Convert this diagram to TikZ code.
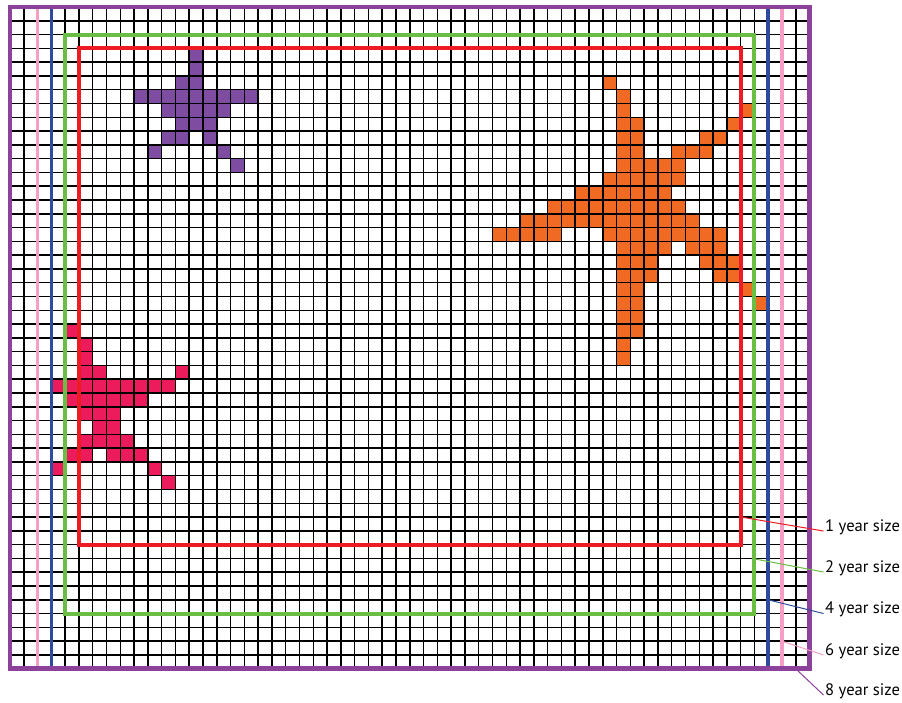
\documentclass[tikz,border=0pt]{standalone}
\usepackage{fontspec}
\setmainfont{PT Sans}
\definecolor{frameP}{RGB}{140,65,155}
\definecolor{starP}{RGB}{126,76,160}
\definecolor{starO}{RGB}{240,106,36}
\definecolor{starC}{RGB}{236,28,92}
\definecolor{lineR}{RGB}{237,28,36}
\definecolor{lineG}{RGB}{106,189,69}
\definecolor{lineB}{RGB}{46,74,158}
\definecolor{lineK}{RGB}{244,160,196}
\tikzset{
  gridline/.style={black,line width=1.5pt},
  sizeline/.style={line width=#1},
  leader/.style={line width=1pt},
  lbl/.style={inner sep=0pt,anchor=base west,font=\fontsize{16.6}{19}\selectfont}
}
\begin{document}
\begin{tikzpicture}[x=1pt,y=-1pt]
\fill[white] (0,0) rectangle (902,702);
\useasboundingbox (0,0) rectangle (902,702);
\begin{scope}[xshift=10pt,yshift=-7pt,x=13.785pt,y=-13.785pt]
  % purple star
  \foreach \r/\a/\b in {3/13/13,4/13/13,5/12/13,6/9/17,7/11/15,8/12/14,9/11/12,9/14/14,10/10/10,10/15/15,11/16/16}
    \fill[starP] (\a,\r) rectangle (\b+1,\r+1);
  % orange star
  \foreach \r/\a/\b in {5/43/43,6/44/44,7/44/44,7/53/53,8/44/45,8/52/52,9/44/45,9/50/51,10/44/45,10/48/50,11/44/48,12/43/48,13/41/47,14/39/48,15/37/49,16/35/39,16/43/51,17/44/47,17/49/51,18/44/46,18/50/52,19/44/46,19/51/52,20/44/45,20/53/53,21/44/45,21/54/54,22/44/45,23/44/45,24/44/44,25/44/44}
    \fill[starO] (\a,\r) rectangle (\b+1,\r+1);
  % crimson star
  \foreach \r/\a/\b in {23/4/4,24/5/5,25/5/5,26/5/6,26/12/12,27/3/11,28/4/9,29/5/7,30/6/7,31/5/8,32/4/5,32/7/9,33/3/3,33/10/10,34/11/11}
    \fill[starC] (\a,\r) rectangle (\b+1,\r+1);
  % grid
  \foreach \c in {0,...,58} \draw[gridline] (\c,0) -- (\c,48);
  \foreach \r in {0,...,48} \draw[gridline] (0,\r) -- (58,\r);
  % size frames
  \draw[lineR,sizeline=4pt] (5,3) rectangle (53,39);
  \draw[lineG,sizeline=4pt] (4,2) rectangle (54,44);
  \draw[lineB,sizeline=3.5pt] (3,0) -- (3,48) (55,0) -- (55,48);
  \draw[lineK,sizeline=3.5pt] (2,0) -- (2,48) (56,0) -- (56,48);
  \draw[frameP,sizeline=4.5pt] (0,0) rectangle (58,48);
\end{scope}
% labels
\node[lbl] (l1) at (825,531) {1 year size};
\node[lbl] (l2) at (825,572) {2 year size};
\node[lbl] (l4) at (825,613.5) {4 year size};
\node[lbl] (l6) at (825,655) {6 year size};
\node[lbl] (l8) at (825,695) {8 year size};
\coordinate (c1) at (741,517);
\coordinate (c2) at (755,559);
\coordinate (c4) at (769,600);
\coordinate (c6) at (783,641.5);
\coordinate (c8) at (797,670);
\draw[leader,lineR] (c1) -- ([xshift=-1.5pt]l1.base west);
\draw[leader,lineG] (c2) -- ([xshift=-1.5pt]l2.base west);
\draw[leader,lineB] (c4) -- ([xshift=-1.5pt]l4.base west);
\draw[leader,lineK] (c6) -- ([xshift=-1.5pt]l6.base west);
\draw[leader,frameP] (c8) -- ([xshift=-1.5pt]l8.base west);
\end{tikzpicture}
\end{document}
